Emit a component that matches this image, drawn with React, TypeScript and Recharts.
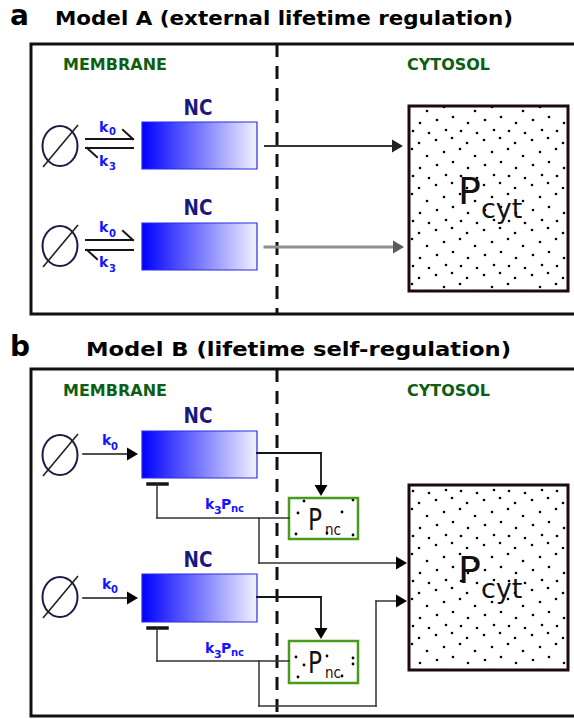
import React from 'react';
import { ComposedChart, XAxis, YAxis, ReferenceArea, ReferenceLine, ReferenceDot, Scatter } from 'recharts';

const W = 574;
const H = 719;

// text content
const panelLetters = ['a', 'b'];
const panelTitles = ['Model A (external lifetime regulation)', 'Model B (lifetime self-regulation)'];
const compartments = ['MEMBRANE', 'CYTOSOL'];
const species = 'NC';
const cytosolPool = ['P', 'cyt'];
const ncPool = ['P', 'nc'];
const rateSymbols = ['k', '0', '3'];

const GREEN = '#0d5e12';
const BLUE = '#1414ff';
const NAVY = '#1a1a7a';
const INK = '#161616';

type Txt = {
  x: number; y: number; t: string; size: number; bold?: boolean; fill?: string;
  anchor?: string; len?: number; family?: string;
};

// layout of the labels
const labels: Txt[] = [
  { x: 10, y: 25, t: panelLetters[0], size: 28, bold: true, fill: '#000' },
  { x: 55, y: 25, t: panelTitles[0], size: 20, bold: true, fill: '#000', len: 458 },
  { x: 10, y: 356, t: panelLetters[1], size: 28, bold: true, fill: '#000' },
  { x: 86, y: 356, t: panelTitles[1], size: 20, bold: true, fill: '#000', len: 425 },
  { x: 63, y: 70, t: compartments[0], size: 15, bold: true, fill: GREEN, len: 104 },
  { x: 407, y: 70, t: compartments[1], size: 15, bold: true, fill: GREEN, len: 83 },
  { x: 63, y: 396, t: compartments[0], size: 15, bold: true, fill: GREEN, len: 104 },
  { x: 407, y: 396, t: compartments[1], size: 15, bold: true, fill: GREEN, len: 83 },
  // NC labels
  { x: 198, y: 115, t: species, size: 21, bold: true, fill: NAVY, anchor: 'middle', len: 29 },
  { x: 198, y: 215, t: species, size: 21, bold: true, fill: NAVY, anchor: 'middle', len: 29 },
  { x: 198, y: 423, t: species, size: 21, bold: true, fill: NAVY, anchor: 'middle', len: 29 },
  { x: 198, y: 567, t: species, size: 21, bold: true, fill: NAVY, anchor: 'middle', len: 29 },
  // rate constants, panel a
  { x: 99, y: 132, t: rateSymbols[0], size: 14, bold: true, fill: BLUE },
  { x: 109, y: 135, t: rateSymbols[1], size: 10, bold: true, fill: BLUE },
  { x: 99, y: 166, t: rateSymbols[0], size: 14, bold: true, fill: BLUE },
  { x: 109, y: 170, t: rateSymbols[2], size: 10, bold: true, fill: BLUE },
  { x: 99, y: 232, t: rateSymbols[0], size: 14, bold: true, fill: BLUE },
  { x: 109, y: 237, t: rateSymbols[1], size: 10, bold: true, fill: BLUE },
  { x: 99, y: 267, t: rateSymbols[0], size: 14, bold: true, fill: BLUE },
  { x: 109, y: 272, t: rateSymbols[2], size: 10, bold: true, fill: BLUE },
  // rate constants, panel b
  { x: 102, y: 445, t: rateSymbols[0], size: 14, bold: true, fill: BLUE },
  { x: 111, y: 450, t: rateSymbols[1], size: 10, bold: true, fill: BLUE },
  { x: 102, y: 589, t: rateSymbols[0], size: 14, bold: true, fill: BLUE },
  { x: 111, y: 593, t: rateSymbols[1], size: 10, bold: true, fill: BLUE },
  { x: 205, y: 509, t: rateSymbols[0], size: 14, bold: true, fill: BLUE },
  { x: 214, y: 514, t: rateSymbols[2], size: 11, bold: true, fill: BLUE },
  { x: 221, y: 509, t: ncPool[0], size: 14, bold: true, fill: BLUE },
  { x: 231, y: 512, t: ncPool[1], size: 10, bold: true, fill: BLUE },
  { x: 205, y: 653, t: rateSymbols[0], size: 14, bold: true, fill: BLUE },
  { x: 214, y: 658, t: rateSymbols[2], size: 11, bold: true, fill: BLUE },
  { x: 221, y: 653, t: ncPool[0], size: 14, bold: true, fill: BLUE },
  { x: 231, y: 656, t: ncPool[1], size: 10, bold: true, fill: BLUE },
  // pools
  { x: 458, y: 204, t: cytosolPool[0], size: 38, fill: '#111' },
  { x: 481, y: 218, t: cytosolPool[1], size: 27, fill: '#111' },
  { x: 458, y: 583, t: cytosolPool[0], size: 38, fill: '#111' },
  { x: 481, y: 598, t: cytosolPool[1], size: 27, fill: '#111' },
  { x: 308, y: 530, t: ncPool[0], size: 31, fill: '#111', len: 14 },
  { x: 325, y: 535, t: ncPool[1], size: 15, fill: '#111', len: 16 },
  { x: 308, y: 673, t: ncPool[0], size: 31, fill: '#111', len: 14 },
  { x: 325, y: 678, t: ncPool[1], size: 15, fill: '#111', len: 16 },
];

// boxes: x1, x2, y1, y2
const panelFrames = [[31, 580, 44, 314], [31, 580, 369, 716]];
const ncBoxes = [[142, 257, 122, 169], [142, 257, 223, 270], [142, 257, 431, 478], [142, 257, 574, 622]];
const cytBoxes = [[409, 568, 106, 291], [409, 568, 485, 670]];
const pncBoxes = [[289, 358, 498, 539], [289, 358, 641, 683]];

// empty-set symbols: centre x, y
const emptySets = [[60, 146], [60, 246], [60, 455], [60, 597]];

type Seg = [number, number, number, number, string, number];
const segments: Seg[] = [
  // panel a: reversible reactions
  [86, 139, 133, 139, INK, 2], [123, 130, 133, 139, INK, 2],
  [86, 148, 133, 148, INK, 2], [87, 148, 97, 157, INK, 2],
  [86, 240, 133, 240, INK, 2], [123, 231, 133, 240, INK, 2],
  [86, 250, 133, 250, INK, 2], [87, 250, 97, 259, INK, 2],
  // panel a: export to cytosol
  [265, 146, 393, 146, '#333', 2],
  [265, 247, 393, 247, '#8f8f8f', 3],
  // panel b: synthesis
  [83, 454, 128, 454, INK, 1.6],
  [83, 598, 128, 598, INK, 1.6],
  // panel b, first NC
  [257, 453, 321, 453, INK, 1.8], [321, 453, 321, 485, INK, 1.8],
  [148, 484, 167, 484, INK, 3.5],
  [157, 484, 157, 518, '#333', 1.5], [157, 518, 289, 518, '#333', 1.5],
  [259, 518, 259, 563, '#333', 1.5], [259, 563, 396, 563, '#333', 1.5],
  // panel b, second NC
  [257, 597, 321, 597, INK, 1.8], [321, 597, 321, 628, INK, 1.8],
  [148, 628, 167, 628, INK, 3.5],
  [157, 628, 157, 661, '#333', 1.5], [157, 661, 289, 661, '#333', 1.5],
  [259, 661, 259, 706, '#333', 1.5], [259, 706, 376, 706, '#333', 1.5],
  [376, 706, 376, 601, '#333', 1.5], [376, 601, 396, 601, '#333', 1.5],
];

const dividers = [[277, 44, 314], [277, 369, 719]];

// arrow tips
const arrowHeads = [
  { x: 403, y: 146, dir: 'r', c: '#222' },
  { x: 404, y: 247, dir: 'r', c: '#5a5a5a' },
  { x: 138, y: 454, dir: 'r', c: '#000' },
  { x: 138, y: 598, dir: 'r', c: '#000' },
  { x: 321, y: 496, dir: 'd', c: '#000' },
  { x: 321, y: 639, dir: 'd', c: '#000' },
  { x: 407, y: 563, dir: 'r', c: '#000' },
  { x: 407, y: 601, dir: 'r', c: '#000' },
];

const FONT = '"DejaVu Sans", Verdana, sans-serif';

const TextShape = (p: any) => {
  const d: Txt = p.payload;
  return (
    <text
      x={p.cx}
      y={p.cy}
      fontSize={d.size}
      fontWeight={d.bold ? 'bold' : 'normal'}
      fill={d.fill || '#000'}
      textAnchor={d.anchor || 'start'}
      fontFamily={d.family || FONT}
      textLength={d.len}
      lengthAdjust={d.len ? 'spacingAndGlyphs' : undefined}
    >
      {d.t}
    </text>
  );
};

const ArrowShape = (p: any) => {
  const { cx, cy } = p;
  const L = 11;
  const h = 6.5;
  const pts = p.payload.dir === 'd'
    ? `${cx},${cy} ${cx - h},${cy - L} ${cx + h},${cy - L}`
    : `${cx},${cy} ${cx - L},${cy - h} ${cx - L},${cy + h}`;
  return <polygon points={pts} fill={p.payload.c} />;
};

const EmptySet = (p: any) => {
  const { cx, cy } = p;
  return (
    <g>
      <ellipse cx={cx} cy={cy} rx={17.5} ry={20} fill="none" stroke="#1c1c48" strokeWidth={2} />
      <line x1={cx - 17} y1={cy + 21} x2={cx + 18} y2={cy - 21} stroke="#222" strokeWidth={1.6} />
    </g>
  );
};

export default function App() {
  return (
    <div style={{ width: W, height: H, background: '#fff' }}>
      <style>{'body{margin:0}'}</style>
      <ComposedChart width={W} height={H} margin={{ top: 0, right: 0, bottom: 0, left: 0 }} style={{ fontFamily: FONT }}>
        <defs>
          <linearGradient id="ncGrad" x1="0" y1="0" x2="1" y2="0">
            <stop offset="0%" stopColor="#0000ff" />
            <stop offset="100%" stopColor="#f2f2ff" />
          </linearGradient>
          <pattern id="dots" width="48" height="45" patternUnits="userSpaceOnUse">
            <rect width="48" height="45" fill="#fff" />
            <circle cx="4" cy="5" r="1.3" fill="#000" />
            <circle cx="20" cy="3" r="1.3" fill="#000" />
            <circle cx="35" cy="8" r="1.3" fill="#000" />
            <circle cx="12" cy="17" r="1.3" fill="#000" />
            <circle cx="28" cy="14" r="1.3" fill="#000" />
            <circle cx="43" cy="21" r="1.3" fill="#000" />
            <circle cx="5" cy="30" r="1.3" fill="#000" />
            <circle cx="21" cy="27" r="1.3" fill="#000" />
            <circle cx="36" cy="33" r="1.3" fill="#000" />
            <circle cx="14" cy="40" r="1.3" fill="#000" />
            <circle cx="29" cy="41" r="1.3" fill="#000" />
            <circle cx="45" cy="43" r="1.3" fill="#000" />
          </pattern>
          <pattern id="sparse" x="289" y="498" width="69" height="41" patternUnits="userSpaceOnUse">
            <rect width="69" height="41" fill="#fff" />
            <circle cx="15" cy="3" r="1.4" fill="#000" />
            <circle cx="64" cy="2" r="1.4" fill="#000" />
            <circle cx="9" cy="15" r="1.4" fill="#000" />
            <circle cx="53" cy="14" r="1.4" fill="#000" />
            <circle cx="7" cy="36" r="1.4" fill="#000" />
            <circle cx="38" cy="35" r="1.4" fill="#000" />
            <circle cx="64" cy="37" r="1.4" fill="#000" />
          </pattern>
        </defs>
        <XAxis type="number" dataKey="x" domain={[0, W]} hide allowDataOverflow />
        <YAxis type="number" dataKey="y" domain={[0, H]} reversed hide allowDataOverflow />

        {panelFrames.map(([x1, x2, y1, y2], i) => (
          <ReferenceArea key={`f${i}`} x1={x1} x2={x2} y1={y1} y2={y2} ifOverflow="visible"
            fill="#fff" fillOpacity={1} stroke="#111" strokeWidth={3} />
        ))}
        {ncBoxes.map(([x1, x2, y1, y2], i) => (
          <ReferenceArea key={`n${i}`} x1={x1} x2={x2} y1={y1} y2={y2} ifOverflow="visible"
            fill="url(#ncGrad)" fillOpacity={1} stroke="#2a2ae0" strokeWidth={1.2} />
        ))}
        {cytBoxes.map(([x1, x2, y1, y2], i) => (
          <ReferenceArea key={`c${i}`} x1={x1} x2={x2} y1={y1} y2={y2} ifOverflow="visible"
            fill="url(#dots)" fillOpacity={1} stroke="#1e0a0a" strokeWidth={3} />
        ))}
        {pncBoxes.map(([x1, x2, y1, y2], i) => (
          <ReferenceArea key={`p${i}`} x1={x1} x2={x2} y1={y1} y2={y2} ifOverflow="visible"
            fill="url(#sparse)" fillOpacity={1} stroke="#4a9a1e" strokeWidth={2.5} />
        ))}

        {dividers.map(([x, y1, y2], i) => (
          <ReferenceLine key={`d${i}`} segment={[{ x, y: y1 }, { x, y: y2 }]} ifOverflow="visible"
            stroke="#111" strokeWidth={3} strokeDasharray="13 9" />
        ))}
        {segments.map(([x1, y1, x2, y2, c, w], i) => (
          <ReferenceLine key={`s${i}`} segment={[{ x: x1, y: y1 }, { x: x2, y: y2 }]} ifOverflow="visible"
            stroke={c} strokeWidth={w} strokeLinecap="square" />
        ))}

        {emptySets.map(([x, y], i) => (
          <ReferenceDot key={`e${i}`} x={x} y={y} r={0} ifOverflow="visible" shape={EmptySet} />
        ))}

        <Scatter data={arrowHeads} shape={ArrowShape} isAnimationActive={false} />
        <Scatter data={labels} shape={TextShape} isAnimationActive={false} />
      </ComposedChart>
    </div>
  );
}
